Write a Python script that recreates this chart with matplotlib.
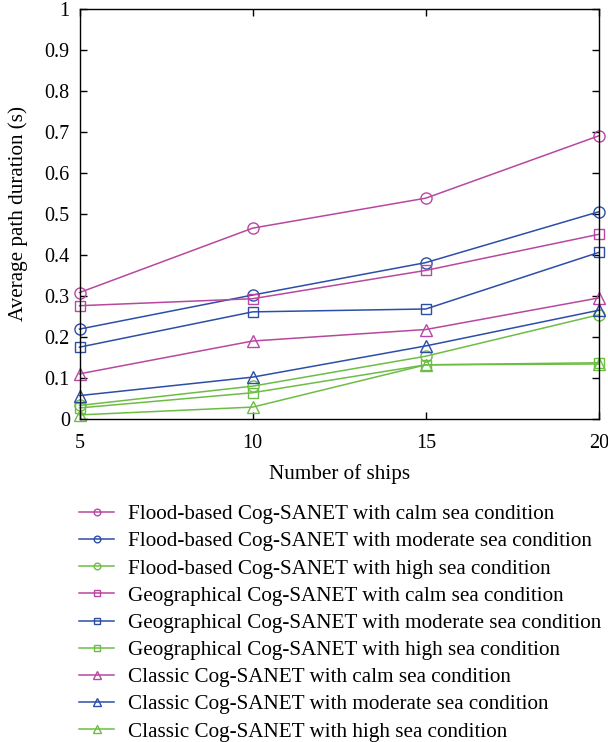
import matplotlib
matplotlib.use("Agg")
import matplotlib.pyplot as plt
from matplotlib.lines import Line2D

plt.rcParams['font.family'] = ['Liberation Serif', 'DejaVu Serif']

ships = [5, 10, 15, 20]
flood_calm = [0.308, 0.465, 0.538, 0.690]
flood_moderate = [0.219, 0.302, 0.381, 0.505]
flood_high = [0.033, 0.080, 0.153, 0.254]
geo_calm = [0.276, 0.293, 0.362, 0.450]
geo_moderate = [0.175, 0.261, 0.268, 0.406]
geo_high = [0.027, 0.064, 0.132, 0.137]
classic_calm = [0.110, 0.190, 0.218, 0.295]
classic_moderate = [0.057, 0.102, 0.178, 0.265]
classic_high = [0.010, 0.029, 0.132, 0.134]

labels = [
    "Flood-based Cog-SANET with calm sea condition",
    "Flood-based Cog-SANET with moderate sea condition",
    "Flood-based Cog-SANET with high sea condition",
    "Geographical Cog-SANET with calm sea condition",
    "Geographical Cog-SANET with moderate sea condition",
    "Geographical Cog-SANET with high sea condition",
    "Classic Cog-SANET with calm sea condition",
    "Classic Cog-SANET with moderate sea condition",
    "Classic Cog-SANET with high sea condition",
]
series = [flood_calm, flood_moderate, flood_high,
          geo_calm, geo_moderate, geo_high,
          classic_calm, classic_moderate, classic_high]

MAG = '#b8489f'
BLU = '#2c4ea6'
GRN = '#6dbd45'
colors = [MAG, BLU, GRN] * 3
markers = ['o'] * 3 + ['s'] * 3 + ['^'] * 3
msizes = [8] * 3 + [7] * 3 + [8.5] * 3

fig = plt.figure(figsize=(6.08, 7.42), dpi=100)
ax = fig.add_axes([79.5 / 608, 1 - 419 / 742, (599 - 79.5) / 608, (419 - 8.5) / 742])

handles = []
for y, lab, c, m, ms in zip(series, labels, colors, markers, msizes):
    ax.plot(ships, y, color=c, marker=m, markersize=ms, markerfacecolor='none',
            markeredgecolor=c, markeredgewidth=1.0, linewidth=1.1, clip_on=False)
    handles.append(Line2D([0], [0], color=c, marker=m, markersize=ms * 0.6,
                          markerfacecolor='none', markeredgecolor=c,
                          markeredgewidth=1.0, linewidth=1.1, label=lab))

ax.set_xlim(5, 20)
ax.set_ylim(0, 1)
ax.set_xticks([5, 10, 15, 20])
ax.set_yticks([i / 10 for i in range(11)])
ax.set_yticklabels(['0'] + [f'{i/10:.1f}' for i in range(1, 10)] + ['1'])
ax.tick_params(direction='in', top=True, right=True, labelsize=14.5, length=5, width=1)
ax.tick_params(axis='x', pad=11)
ax.tick_params(axis='y', pad=7)
for s in ax.spines.values():
    s.set_linewidth(1.0)
ax.set_xlabel('Number of ships', fontsize=15.2, labelpad=8)
ax.set_ylabel('Average path duration (s)', fontsize=15.2, labelpad=12)

fig.legend(handles=handles, loc='upper left', bbox_to_anchor=(71 / 608, 1 - 496 / 742),
           frameon=False, fontsize=15.2, handlelength=1.63, handletextpad=0.66,
           labelspacing=0.35, borderaxespad=0)

fig.savefig('out.png', dpi=100)
